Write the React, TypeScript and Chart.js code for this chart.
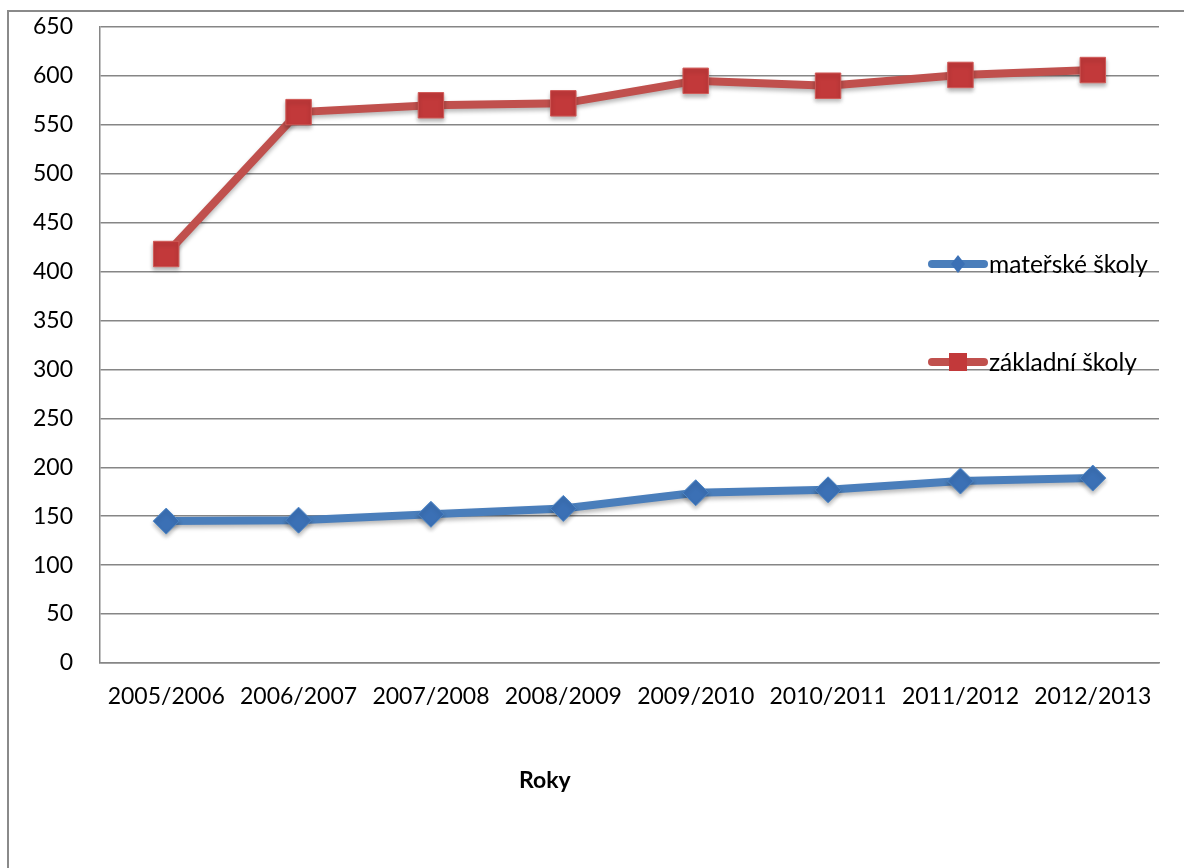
import { useEffect, useRef } from "react";
import { Chart, registerables } from "chart.js";

Chart.register(...registerables);

const categories = [
  "2005/2006",
  "2006/2007",
  "2007/2008",
  "2008/2009",
  "2009/2010",
  "2010/2011",
  "2011/2012",
  "2012/2013",
];
const materskeSkoly = [145, 146, 152, 158, 174, 177, 186, 189];
const zakladniSkoly = [418, 563, 570, 572, 595, 590, 601, 606];
const seriesLabels = ["mateřské školy", "základní školy"];
const yMin = 0;
const yMax = 650;
const yStep = 50;
const xTitle = "Roky";

const FONT = "Lato, 'Open Sans', sans-serif";
const BLUE = "#4A7EBB";
const BLUE_MARK = "#3B70B5";
const RED = "#C0504D";
const RED_MARK = "#C2393A";

const overlayPlugin = {
  id: "overlay",
  beforeDatasetsDraw(chart: any) {
    const ctx = chart.ctx;
    ctx.save();
    ctx.shadowColor = "rgba(0,0,0,0.28)";
    ctx.shadowBlur = 4;
    ctx.shadowOffsetY = 3;
  },
  afterDatasetsDraw(chart: any) {
    chart.ctx.restore();
  },
  afterDraw(chart: any) {
    const ctx = chart.ctx;
    const area = chart.chartArea;
    const lx = area.right - 231;
    const ly0 = area.top + 237;
    const gap = 98;
    chart.data.datasets.forEach((ds: any, i: number) => {
      const y = ly0 + i * gap;
      ctx.save();
      ctx.lineCap = "round";
      ctx.lineWidth = 8;
      ctx.strokeStyle = ds.borderColor;
      ctx.beginPath();
      ctx.moveTo(lx + 4, y);
      ctx.lineTo(lx + 56, y);
      ctx.stroke();
      const cx = lx + 30;
      ctx.fillStyle = ds.pointBackgroundColor;
      ctx.beginPath();
      if (ds.pointStyle === "rectRot") {
        ctx.moveTo(cx, y - 9);
        ctx.lineTo(cx + 7, y);
        ctx.lineTo(cx, y + 9);
        ctx.lineTo(cx - 7, y);
        ctx.closePath();
      } else {
        ctx.rect(cx - 9, y - 9, 18, 18);
      }
      ctx.fill();
      ctx.fillStyle = "#000";
      ctx.font = `24.5px ${FONT}`;
      ctx.textAlign = "left";
      ctx.textBaseline = "middle";
      ctx.fillText(ds.label, lx + 61, y + 1);
      ctx.restore();
    });
    ctx.save();
    ctx.fillStyle = "#000";
    ctx.font = `bold 23px ${FONT}`;
    ctx.textAlign = "center";
    ctx.textBaseline = "middle";
    ctx.fillText(xTitle, area.left + (area.right - area.left) * 0.42, area.bottom + 118);
    ctx.restore();
  },
};

export default function App() {
  const ref = useRef<HTMLCanvasElement | null>(null);
  useEffect(() => {
    if (!ref.current) return;
    const chart = new Chart(ref.current, {
      type: "line",
      data: {
        labels: categories,
        datasets: [
          {
            label: seriesLabels[0],
            data: materskeSkoly,
            borderColor: BLUE,
            backgroundColor: BLUE_MARK,
            pointBackgroundColor: BLUE_MARK,
            pointBorderColor: "#4D86C6",
            pointBorderWidth: 1,
            pointStyle: "rectRot",
            pointRadius: 13,
            pointHoverRadius: 13,
            borderWidth: 8,
            tension: 0,
          },
          {
            label: seriesLabels[1],
            data: zakladniSkoly,
            borderColor: RED,
            backgroundColor: RED_MARK,
            pointBackgroundColor: RED_MARK,
            pointBorderColor: "#D05A57",
            pointBorderWidth: 1,
            pointStyle: "rect",
            pointRadius: 18,
            pointHoverRadius: 18,
            borderWidth: 8,
            tension: 0,
          },
        ] as any,
      },
      options: {
        responsive: false,
        animation: false,
        events: [],
        layout: { padding: { top: 27, right: 25, left: 0, bottom: 125 } },
        plugins: {
          legend: { display: false },
          tooltip: { enabled: false },
          title: { display: false },
        },
        scales: {
          x: {
            offset: true,
            grid: { display: false, drawTicks: false },
            border: { display: true, color: "#868686", width: 1.5 },
            ticks: {
              color: "#000",
              font: { family: FONT, size: 23 },
              padding: 20,
              maxRotation: 0,
              autoSkip: false,
            },
            afterFit(scale: any) {
              scale.height = 80;
              scale.paddingLeft = 0;
              scale.paddingRight = 0;
            },
          },
          y: {
            min: yMin,
            max: yMax,
            grid: { color: "#868686", lineWidth: 1.5, drawTicks: false },
            border: { display: true, color: "#868686", width: 1.5 },
            ticks: {
              stepSize: yStep,
              color: "#000",
              font: { family: FONT, size: 23 },
              padding: 27,
            },
            afterFit(scale: any) {
              scale.width = 100;
              scale.paddingTop = 0;
              scale.paddingBottom = 0;
            },
          },
        },
      },
      plugins: [overlayPlugin],
    });
    return () => chart.destroy();
  }, []);

  return (
    <div
      style={{
        position: "fixed",
        left: 0,
        top: 0,
        width: 1184,
        height: 868,
        overflow: "hidden",
        background: "#fff",
      }}
    >
      <div
        style={{
          position: "absolute",
          left: 7,
          top: 10,
          width: 1400,
          height: 1000,
          border: "2px solid #8A8A8A",
          boxSizing: "border-box",
        }}
      />
      <canvas
        ref={ref}
        width={1184}
        height={868}
        style={{ position: "absolute", left: 0, top: 0, width: 1184, height: 868 }}
      />
    </div>
  );
}
